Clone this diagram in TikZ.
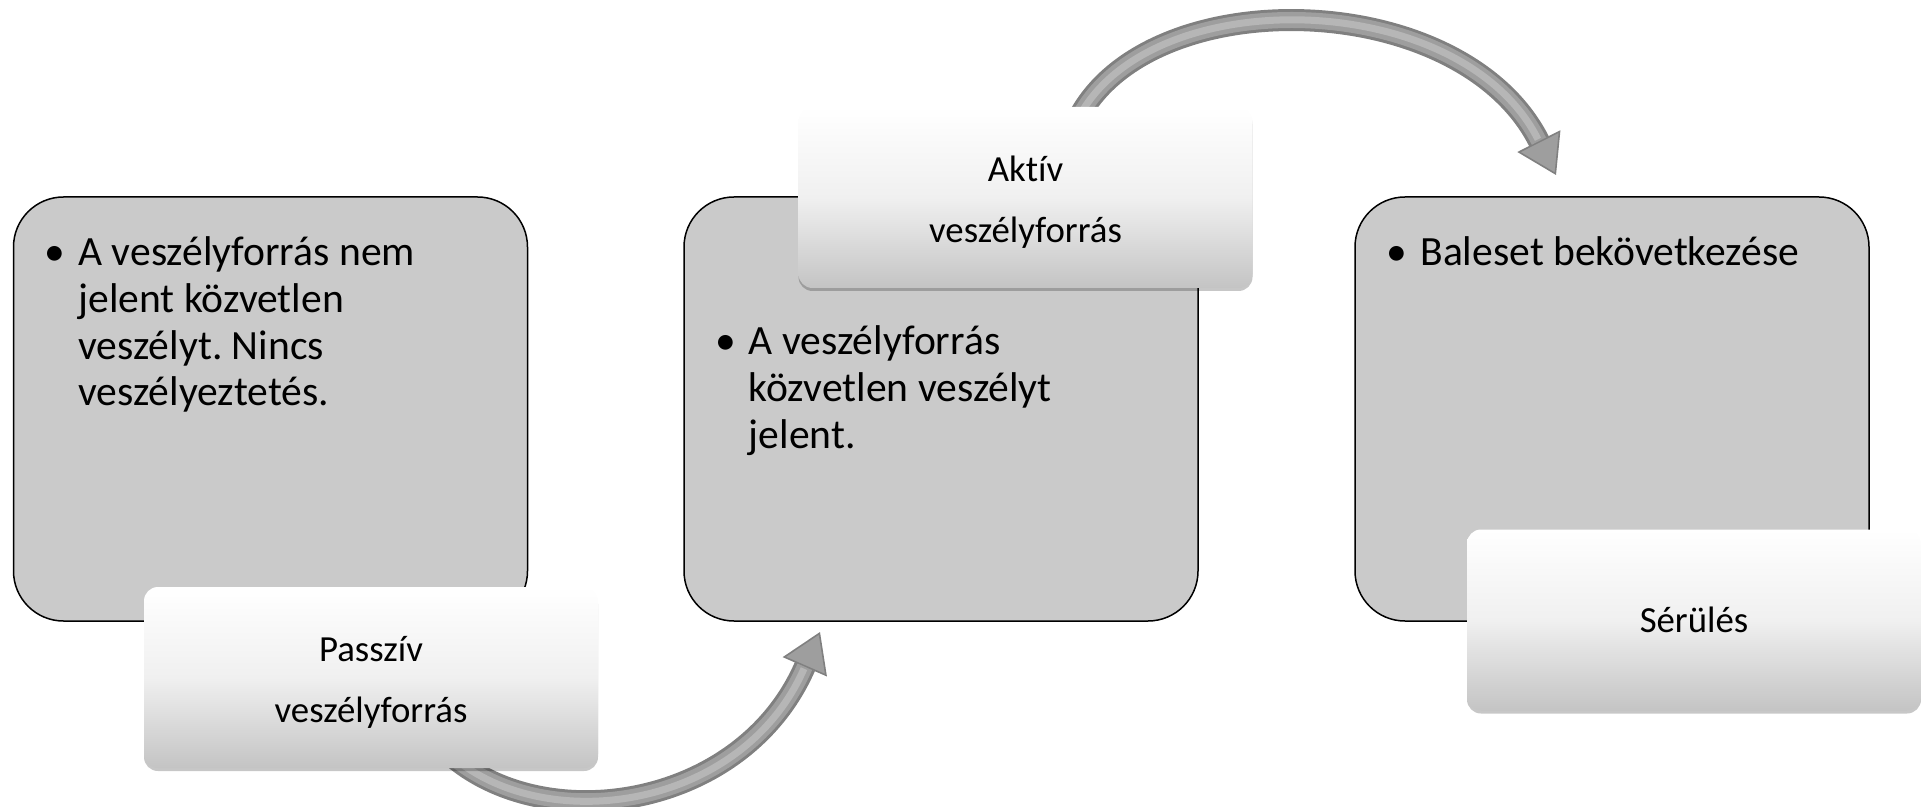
\documentclass[tikz,border=0pt]{standalone}
\usepackage{fontspec}
\setmainfont{Carlito}[Ligatures=NoCommon]
\usetikzlibrary{arrows.meta,shadows}
\definecolor{boxgray}{RGB}{202,202,202}
\definecolor{arrdark}{RGB}{128,128,128}
\definecolor{arrmid}{RGB}{158,158,158}
\definecolor{arrlight}{RGB}{182,182,182}
\definecolor{wbot}{RGB}{196,196,196}
\definecolor{wmid}{RGB}{240,240,240}
\frenchspacing
\begin{document}
\begin{tikzpicture}[x=0.5pt,y=-0.5pt,
  graybox/.style={draw=black, line width=0.75pt, fill=boxgray, rounded corners=25pt,
    minimum width=257pt, minimum height=212pt, inner sep=0pt},
  whitebox/.style={rounded corners=7pt, minimum width=227pt, minimum height=90.5pt,
    top color=white, bottom color=wbot, middle color=wmid,
    drop shadow={shadow xshift=0pt, shadow yshift=-1.5pt, opacity=0.22, fill=black},
    align=center, font=\fontsize{18.4}{30.5}\selectfont, inner sep=0pt},
  bodytext/.style={anchor=base west, inner sep=0pt, font=\fontsize{20.8}{23.3}\selectfont},
  arrout/.style={draw=arrdark, line width=11pt,
    -{Triangle[length=19pt, width=24pt, line width=0.8pt, fill=arrmid]}},
  arrin/.style={draw=arrmid, line width=8pt, shorten >=19pt},
  arrhi/.style={draw=arrlight, line width=3.5pt, shorten >=20pt}
]
\useasboundingbox (0,0) rectangle (1921,807);

% gray boxes
\node[graybox] (g1) at (270.5,409) {};
\node[graybox] (g2) at (941,409) {};
\node[graybox] (g3) at (1612,409) {};

% body texts
\node[bodytext] (t1) at (78,266) {\parbox[t]{230pt}{\leavevmode\llap{•\hspace{6.5pt}}A veszélyforrás nem\\jelent közvetlen\\veszélyt. Nincs\\veszélyeztetés.}};
\node[bodytext] (t2) at (748.5,355) {\parbox[t]{230pt}{\leavevmode\llap{•\hspace{6.5pt}}A veszélyforrás\\közvetlen veszélyt\\jelent.}};
\node[bodytext] (t3) at (1420,266) {\parbox[t]{230pt}{\leavevmode\llap{•\hspace{6.5pt}}Baleset bekövetkezése}};

% arrows
\coordinate (a1s) at (440,745);
\coordinate (a1e) at (820,632);
\coordinate (a2s) at (1075,125);
\coordinate (a2e) at (1556,175);
\draw[arrout] (a1s) .. controls (530,840) and (740,815) .. (a1e);
\draw[arrin] (a1s) .. controls (530,840) and (740,815) .. (a1e);
\draw[arrhi] (a1s) .. controls (530,840) and (740,815) .. (a1e);
\draw[arrout] (a2s) .. controls (1140,-20) and (1460,-15) .. (a2e);
\draw[arrin] (a2s) .. controls (1140,-20) and (1460,-15) .. (a2e);
\draw[arrhi] (a2s) .. controls (1140,-20) and (1460,-15) .. (a2e);

% white boxes
\node[whitebox] (w1) at (371,677.5) {\rule{0pt}{17.5pt}Passzív\\veszélyforrás};
\node[whitebox] (w2) at (1025.5,197.5) {\rule{0pt}{17.5pt}Aktív\\veszélyforrás};
\node[whitebox] (w3) at (1694,620) {Sérülés};
\end{tikzpicture}
\end{document}
